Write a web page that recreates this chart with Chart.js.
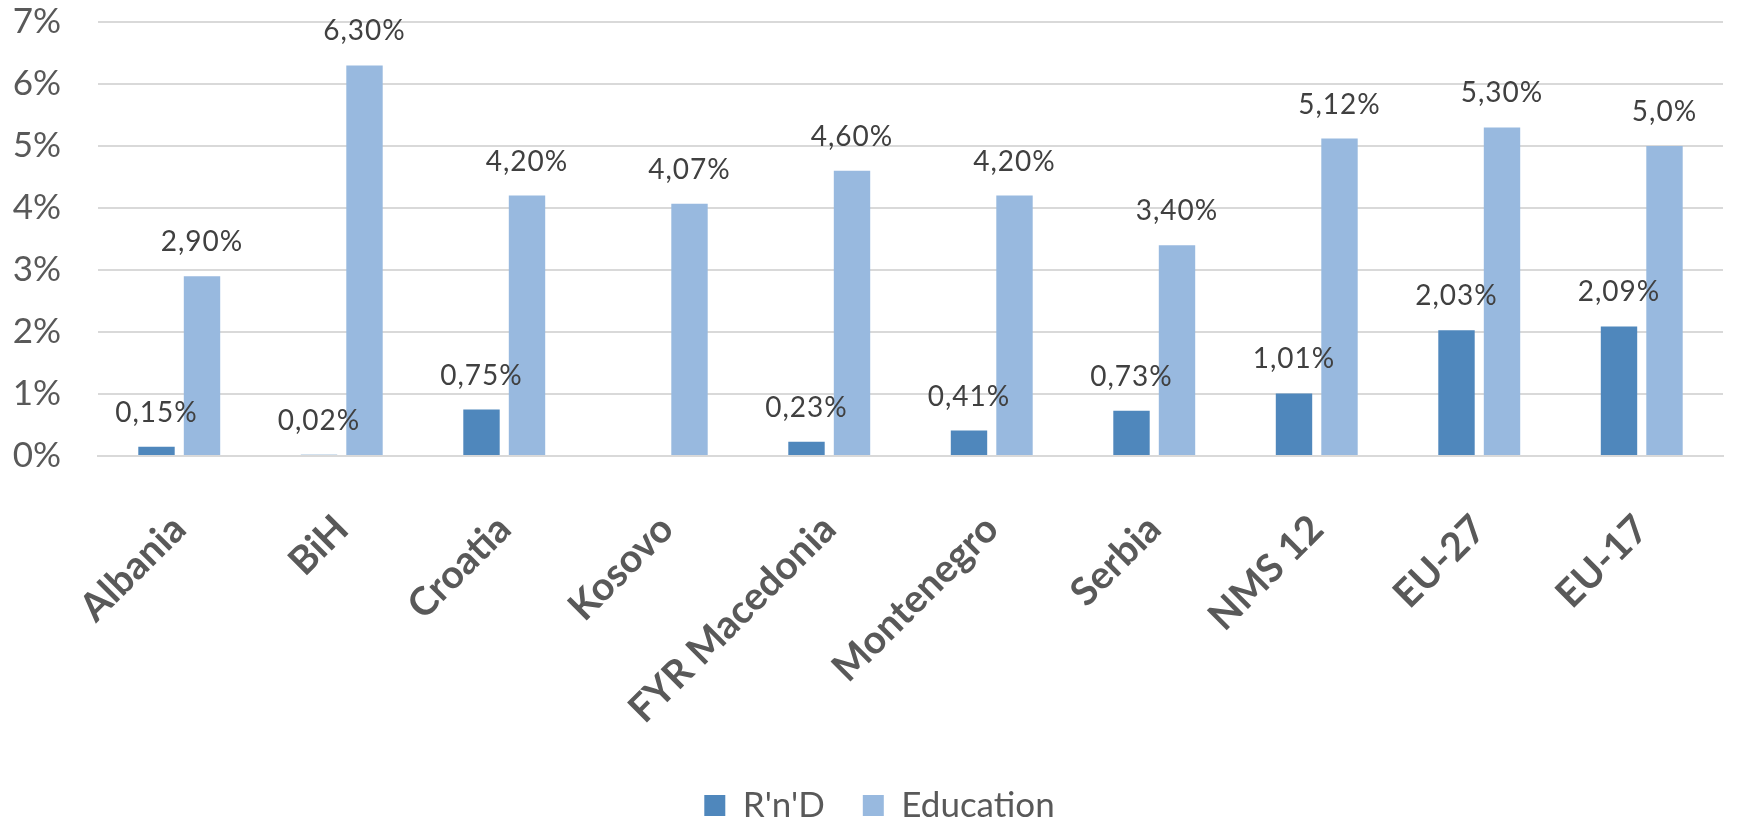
<!DOCTYPE html>
<html>
<head>
<meta charset="utf-8">
<script src="https://cdn.jsdelivr.net/npm/chart.js@4"></script>
<style>
  html, body { margin: 0; padding: 0; background: #ffffff; }
  #wrap { width: 1738px; height: 819px; }
</style>
</head>
<body>
<div id="wrap"><canvas id="c" width="1738" height="819"></canvas></div>
<script>
const categories = ['Albania', 'BiH', 'Croatia', 'Kosovo', 'FYR Macedonia', 'Montenegro', 'Serbia', 'NMS 12', 'EU-27', 'EU-17'];
const rndValues = [0.15, 0.02, 0.75, null, 0.23, 0.41, 0.73, 1.01, 2.03, 2.09];
const eduValues = [2.90, 6.30, 4.20, 4.07, 4.60, 4.20, 3.40, 5.12, 5.30, 5.0];
const rndLabels = ['0,15%', '0,02%', '0,75%', '', '0,23%', '0,41%', '0,73%', '1,01%', '2,03%', '2,09%'];
const eduLabels = ['2,90%', '6,30%', '4,20%', '4,07%', '4,60%', '4,20%', '3,40%', '5,12%', '5,30%', '5,0%'];
const yTickValues = [0, 1, 2, 3, 4, 5, 6, 7];

const FONT = 'Lato, "Open Sans", sans-serif';

const valueLabels = {
  id: 'valueLabels',
  afterLayout(chart) {
    if (chart.legend) { chart.legend.left += 18; chart.legend.right += 18; }
  },
  afterDatasetsDraw(chart) {
    const ctx = chart.ctx;
    const sets = [rndLabels, eduLabels];
    ctx.save();
    ctx.font = '28px ' + FONT;
    ctx.fillStyle = '#404040';
    ctx.textAlign = 'center';
    ctx.textBaseline = 'middle';
    try { ctx.letterSpacing = '1px'; } catch (e) {}
    chart.data.datasets.forEach((ds, di) => {
      const meta = chart.getDatasetMeta(di);
      meta.data.forEach((el, i) => {
        const txt = sets[di][i];
        if (!txt || ds.data[i] === null) return;
        ctx.fillText(txt, el.x, el.y - 34);
      });
    });
    ctx.restore();
  }
};

new Chart(document.getElementById('c'), {
  type: 'bar',
  data: {
    labels: categories,
    datasets: [
      { label: "R'n'D", data: rndValues, backgroundColor: '#4f87bc', categoryPercentage: 0.56, barPercentage: 0.8 },
      { label: 'Education', data: eduValues, backgroundColor: '#98b9df', categoryPercentage: 0.56, barPercentage: 0.8 }
    ]
  },
  options: {
    responsive: false,
    animation: false,
    devicePixelRatio: 1,
    layout: { padding: { top: 22, right: 15, left: 0, bottom: -14 } },
    plugins: {
      tooltip: { enabled: false },
      legend: {
        position: 'bottom',
        labels: {
          boxWidth: 21, boxHeight: 21, padding: 38,
          color: '#595959',
          font: { family: FONT, size: 35, lineHeight: 1.0 }
        }
      }
    },
    scales: {
      x: {
        grid: { display: false, drawTicks: false },
        border: { display: true, color: '#d9d9d9', width: 2 },
        ticks: {
          minRotation: 45, maxRotation: 45, padding: 50,
          color: '#595959',
          font: { family: FONT, size: 39, weight: 'bold' }
        },
        afterFit(scale) {
          scale.height = 294;
          scale.paddingLeft = 0;
          scale.paddingRight = 0;
        }
      },
      y: {
        min: 0, max: 7,
        grid: { color: '#d9d9d9', lineWidth: 2, drawTicks: false },
        border: { display: false },
        afterBuildTicks(scale) { scale.ticks = yTickValues.map(v => ({ value: v })); },
        ticks: {
          padding: 37,
          color: '#595959',
          font: { family: FONT, size: 35 },
          callback: v => v + '%'
        },
        afterFit(scale) {
          scale.width = 98;
          scale.paddingTop = 0;
          scale.paddingBottom = 0;
        }
      }
    }
  },
  plugins: [valueLabels]
});
</script>
</body>
</html>
